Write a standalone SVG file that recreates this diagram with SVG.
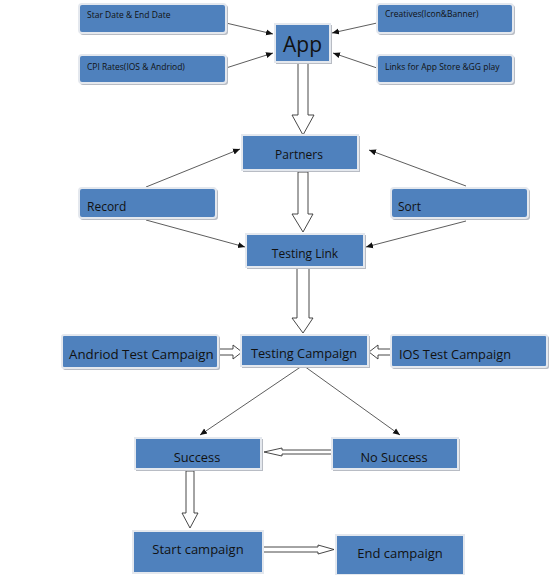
<svg xmlns="http://www.w3.org/2000/svg" width="558" height="575" viewBox="0 0 558 575">
<style>
.box{fill:#4f81bd;stroke:#e4e8ee;stroke-width:2}
.shadow{fill:#b8bcc4}
.t{font-family:"Open Sans","Liberation Sans",sans-serif;fill:#111}
.s{font-size:8.5px}
.m{font-size:12px}
.l{font-size:12.8px}
.ln{stroke:#333;stroke-width:0.8;fill:none}
.blk{fill:#fff;stroke:#333;stroke-width:0.9}
</style>
<defs>
<marker id="ah" markerWidth="8" markerHeight="8" refX="7" refY="4" orient="auto" markerUnits="userSpaceOnUse">
<path d="M0,1 L7,4 L0,7 Z" fill="#111"/>
</marker>
</defs>
<rect width="558" height="575" fill="#fff"/>

<g id="connectors">
<line class="ln" x1="226" y1="23" x2="273" y2="34" marker-end="url(#ah)"/>
<line class="ln" x1="226" y1="68" x2="273" y2="53" marker-end="url(#ah)"/>
<line class="ln" x1="377" y1="23" x2="332" y2="33" marker-end="url(#ah)"/>
<line class="ln" x1="377" y1="68" x2="333" y2="53" marker-end="url(#ah)"/>
<line class="ln" x1="146" y1="187" x2="240" y2="149" marker-end="url(#ah)"/>
<line class="ln" x1="146" y1="220" x2="245" y2="247" marker-end="url(#ah)"/>
<line class="ln" x1="466" y1="186" x2="369" y2="150" marker-end="url(#ah)"/>
<line class="ln" x1="466" y1="221" x2="366" y2="247" marker-end="url(#ah)"/>
<line class="ln" x1="302" y1="366" x2="200" y2="435" marker-end="url(#ah)"/>
<line class="ln" x1="304" y1="366" x2="400" y2="435" marker-end="url(#ah)"/>
<path class="blk" d="M298,63 L308,63 L308,115 L314,115 L303,135 L292,115 L298,115 Z"/>
<path class="blk" d="M298,172 L308,172 L308,214 L313,214 L303,232 L292,214 L298,214 Z"/>
<path class="blk" d="M297,268 L309,268 L309,318 L313,318 L303,333 L292,318 L297,318 Z"/>
<path class="blk" d="M219,349 L233,349 L233,345 L242,352 L233,359 L233,355 L219,355 Z"/>
<path class="blk" d="M391,349 L378,349 L378,345 L369,352 L378,359 L378,355 L391,355 Z"/>
<path class="blk" d="M332,450 L282,450 L282,448 L264,452 L282,456 L282,454 L332,454 Z"/>
<path class="blk" d="M186,471 L194,471 L194,513 L198,513 L190,528 L182,513 L186,513 Z"/>
<path class="blk" d="M263,547 L318,547 L318,545 L334,549.5 L318,554 L318,552 L263,552 Z"/>
</g>

<g id="n-stardate"><rect class="shadow" x="80" y="5" width="148" height="30" rx="3"/><rect class="box" x="79" y="4" width="147" height="29" rx="3"/><text class="t s" x="87" y="18">Star Date &amp; End Date</text></g>
<g id="n-cpi"><rect class="shadow" x="80" y="56" width="148" height="29" rx="3"/><rect class="box" x="79" y="55" width="147" height="28" rx="3"/><text class="t s" x="87" y="70">CPI Rates(IOS &amp; Andriod)</text></g>
<g id="n-creatives"><rect class="shadow" x="378" y="5" width="137" height="30" rx="3"/><rect class="box" x="377" y="4" width="136" height="29" rx="3"/><text class="t s" x="385" y="17">Creatives(Icon&amp;Banner)</text></g>
<g id="n-links"><rect class="shadow" x="378" y="56" width="137" height="29" rx="3"/><rect class="box" x="377" y="55" width="136" height="28" rx="3"/><text class="t s" x="385" y="70">Links for App Store &amp;GG play</text></g>
<g id="n-app"><rect class="shadow" x="276" y="25" width="56" height="39"/><rect class="box" x="275" y="24" width="55" height="38"/><text class="t" x="302.5" y="52" font-size="21" text-anchor="middle">App</text></g>

<g id="n-partners"><rect class="shadow" x="243" y="136" width="117" height="36"/><rect class="box" x="242" y="135" width="116" height="35"/><text class="t m" x="299" y="159" text-anchor="middle">Partners</text></g>
<g id="n-record"><rect class="shadow" x="80" y="189" width="138" height="31" rx="3"/><rect class="box" x="79" y="188" width="137" height="30" rx="3"/><text class="t m" x="87" y="211">Record</text></g>
<g id="n-sort"><rect class="shadow" x="392" y="189" width="138" height="31" rx="3"/><rect class="box" x="391" y="188" width="137" height="30" rx="3"/><text class="t m" x="398" y="211">Sort</text></g>
<g id="n-testlink"><rect class="shadow" x="247" y="235" width="119" height="34"/><rect class="box" x="246" y="234" width="118" height="33"/><text class="t m" x="305" y="258" text-anchor="middle">Testing Link</text></g>

<g id="n-testcamp"><rect class="shadow" x="242" y="336" width="128" height="32"/><rect class="box" x="241" y="335" width="127" height="31"/><text class="t l" x="304" y="358" text-anchor="middle">Testing Campaign</text></g>
<g id="n-android"><rect class="shadow" x="63" y="336" width="157" height="34" rx="2"/><rect class="box" x="62" y="335" width="156" height="33" rx="2"/><text class="t" font-size="13.3" x="69" y="359">Andriod Test Campaign</text></g>
<g id="n-ios"><rect class="shadow" x="392" y="336" width="157" height="33" rx="2"/><rect class="box" x="391" y="335" width="156" height="32" rx="2"/><text class="t" font-size="12.8" x="399" y="359">IOS Test Campaign</text></g>

<g id="n-success"><rect class="shadow" x="136" y="439" width="127" height="32"/><rect class="box" x="135" y="438" width="126" height="31"/><text class="t l" x="197" y="462" text-anchor="middle">Success</text></g>
<g id="n-nosuccess"><rect class="shadow" x="333" y="439" width="127" height="32"/><rect class="box" x="332" y="438" width="126" height="31"/><text class="t l" x="394" y="462" text-anchor="middle">No Success</text></g>

<g id="n-start"><rect class="box" x="133" y="531" width="130" height="42"/><text class="t" font-size="13" x="198" y="554" text-anchor="middle">Start campaign</text></g>
<g id="n-end"><rect class="box" x="336" y="535" width="128" height="40"/><text class="t" font-size="13" x="400" y="558" text-anchor="middle">End campaign</text></g>
</svg>
